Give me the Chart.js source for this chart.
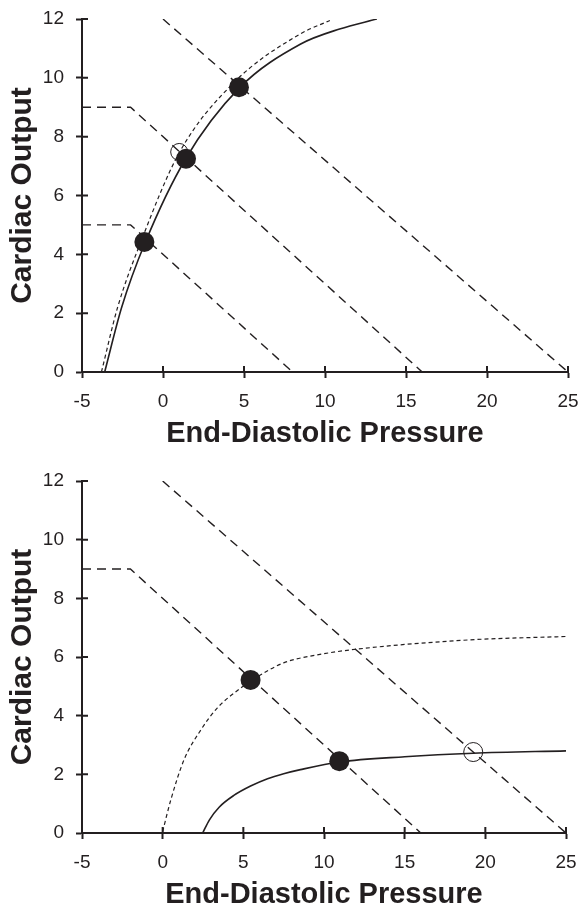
<!DOCTYPE html>
<html>
<head>
<meta charset="utf-8">
<script src="https://cdn.jsdelivr.net/npm/chart.js@4/dist/chart.umd.min.js"></script>
<style>
  body { margin: 0; background: #fff; }
  .box { position: absolute; left: 0; width: 580px; height: 454px; }
</style>
</head>
<body>
<div class="box" style="top:0"><canvas id="topChart" width="580" height="454"></canvas></div>
<div class="box" style="top:454px"><canvas id="bottomChart" width="580" height="454"></canvas></div>
<script>
// values
let xTicks = [-5, 0, 5, 10, 15, 20, 25];
let yTicks = [0, 2, 4, 6, 8, 10, 12];

// upper panel
let topVenous1 = [[-5, 5], [-2, 5], [8, 0]];
let topVenous2 = [[-5, 9], [-2, 9], [16, 0]];
let topVenous3 = [[0, 12], [25, 0]];
let topSolid = [[-3.6, 0], [-2.55, 2.2], [-1.1, 4.4], [1.4, 7.25], [4.7, 9.65],
                [8.5, 11.15], [10.9, 11.66], [13.2, 12]];
let topDotted = [[-3.8, 0], [-2.8, 2.2], [-1.35, 4.45], [1.0, 7.45], [4.4, 9.85],
                 [8.5, 11.5], [10.3, 11.95]];
let topFilled = [[-1.15, 4.42], [1.42, 7.25], [4.69, 9.68]];
let topOpen = [[1.0, 7.48]];

// lower panel
let botVenous1 = [[-5, 9], [-2, 9], [16, 0]];
let botVenous2 = [[0, 12], [25, 0]];
let botSolid = [[2.48, 0], [2.9, 0.45], [3.5, 0.88], [4.41, 1.28], [5.45, 1.6], [6.5, 1.85],
                [7.5, 2.02], [8.54, 2.16], [10.95, 2.42], [15, 2.6], [19.25, 2.72], [25, 2.8]];
let botDotted = [[0, 0.05], [0.5, 1.12], [1.32, 2.49], [2.35, 3.5], [3.38, 4.26], [4.83, 4.94],
                 [5.45, 5.18], [7.5, 5.8], [9.57, 6.07], [11.6, 6.24], [18.9, 6.58], [25, 6.7]];
let botFilled = [[5.45, 5.22], [10.95, 2.45]];
let botOpen = [[19.25, 2.76]];

const ink = '#231f20';
const fontFam = '"Liberation Sans", Arial, Helvetica, sans-serif';

function pts(arr) {
  return arr.map(function (p) { return { x: p[0], y: p[1] }; });
}

function lineSet(arr, dash, width, smooth) {
  return {
    data: pts(arr),
    showLine: true,
    borderColor: ink,
    borderWidth: width,
    borderDash: dash,
    pointRadius: 0,
    fill: false,
    cubicInterpolationMode: smooth ? 'monotone' : 'default',
    tension: 0
  };
}

function dotSet(arr, r, filled) {
  return {
    data: pts(arr),
    showLine: false,
    pointRadius: r,
    pointBackgroundColor: filled ? ink : 'rgba(0,0,0,0)',
    pointBorderColor: ink,
    pointBorderWidth: filled ? 0 : 1,
    pointHoverRadius: r
  };
}

// tick marks cross the axis lines: draw the inner half
const innerTicks = {
  id: 'innerTicks',
  afterDraw: function (chart) {
    let ctx = chart.ctx;
    let xs = chart.scales.x, ys = chart.scales.y;
    let ax = xs.getPixelForValue(-5), ay = ys.getPixelForValue(0);
    ctx.save();
    ctx.strokeStyle = ink;
    ctx.lineWidth = 2;
    ctx.beginPath();
    xTicks.forEach(function (v) {
      let px = xs.getPixelForValue(v);
      ctx.moveTo(px, ay);
      ctx.lineTo(px, ay - 6);
    });
    yTicks.forEach(function (v) {
      let py = ys.getPixelForValue(v);
      ctx.moveTo(ax, py);
      ctx.lineTo(ax + 6, py);
    });
    ctx.stroke();
    ctx.restore();
  }
};

function noPad(s) {
  s.paddingTop = 0; s.paddingBottom = 0; s.paddingLeft = 0; s.paddingRight = 0;
}

function makeChart(id, datasets, padTop, padRight, xHeight, titlePad) {
  return new Chart(document.getElementById(id), {
    type: 'scatter',
    data: { datasets: datasets },
    options: {
      responsive: false,
      animation: false,
      events: [],
      layout: { padding: { top: padTop, right: padRight, left: 0, bottom: 0 }, autoPadding: false },
      plugins: { legend: { display: false }, tooltip: { enabled: false } },
      scales: {
        x: {
          type: 'linear', min: -5, max: 25,
          afterFit: function (s) { s.height = xHeight; noPad(s); },
          border: { display: true, color: ink, width: 2 },
          grid: { drawOnChartArea: false, drawTicks: true, tickLength: 6, tickColor: ink, tickWidth: 2 },
          afterBuildTicks: function (s) { s.ticks = xTicks.map(function (v) { return { value: v }; }); },
          ticks: { color: ink, padding: 12, maxRotation: 0, autoSkip: false, font: { family: fontFam, size: 19 } },
          title: {
            display: true, text: 'End-Diastolic Pressure', color: ink,
            padding: { top: 0, bottom: titlePad },
            font: { family: fontFam, size: 29, weight: 'bold', lineHeight: 1 }
          }
        },
        y: {
          type: 'linear', min: 0, max: 12,
          afterFit: function (s) { s.width = 82; noPad(s); },
          border: { display: true, color: ink, width: 2 },
          grid: { drawOnChartArea: false, drawTicks: true, tickLength: 6, tickColor: ink, tickWidth: 2 },
          afterBuildTicks: function (s) { s.ticks = yTicks.map(function (v) { return { value: v }; }); },
          ticks: { color: ink, padding: 12, font: { family: fontFam, size: 19 } },
          title: {
            display: true, text: 'Cardiac Output', color: ink,
            padding: { top: 8, bottom: 0 },
            font: { family: fontFam, size: 30, weight: 'bold', lineHeight: 1 }
          }
        }
      }
    },
    plugins: [innerTicks]
  });
}

makeChart('topChart', [
  dotSet(topFilled, 10, true),
  dotSet(topOpen, 8.5, false),
  lineSet(topSolid, [], 1.6, true),
  lineSet(topDotted, [4, 3], 1.2, true),
  lineSet(topVenous1, [9, 6], 1.4, false),
  lineSet(topVenous2, [9, 6], 1.4, false),
  lineSet(topVenous3, [9, 6], 1.4, false)
], 19, 12, 82, 6);

makeChart('bottomChart', [
  dotSet(botFilled, 10, true),
  dotSet(botOpen, 9.5, false),
  lineSet(botSolid, [], 1.6, true),
  lineSet(botDotted, [4, 3], 1.2, true),
  lineSet(botVenous1, [9, 6], 1.4, false),
  lineSet(botVenous2, [9, 6], 1.4, false)
], 27, 14, 75, -1);
</script>
</body>
</html>
